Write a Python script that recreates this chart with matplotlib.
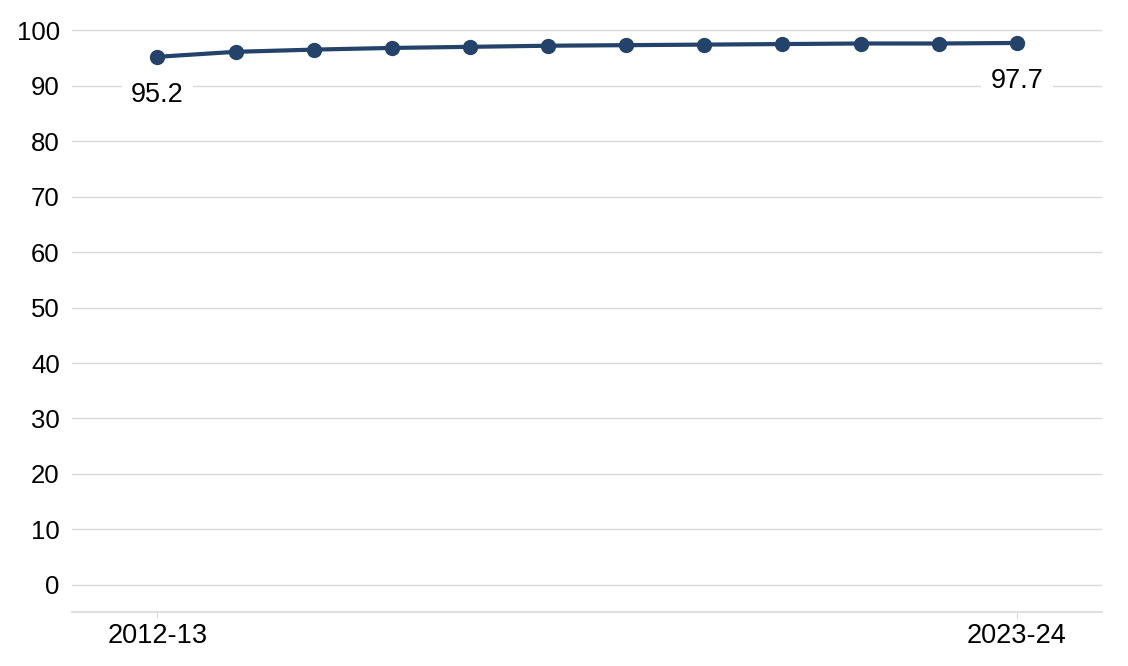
import matplotlib.pyplot as plt

plt.rcParams['font.family'] = ['Liberation Sans', 'DejaVu Sans']

years = ['2012-13', '2013-14', '2014-15', '2015-16', '2016-17', '2017-18',
         '2018-19', '2019-20', '2020-21', '2021-22', '2022-23', '2023-24']
values = [95.2, 96.1, 96.5, 96.8, 97.0, 97.2, 97.3, 97.4, 97.5, 97.6, 97.6, 97.7]
y_ticks = [0, 10, 20, 30, 40, 50, 60, 70, 80, 90, 100]

line_color = '#23436b'
grid_color = '#d9d9d9'

fig = plt.figure(figsize=(11.28, 6.66), dpi=100)
ax = fig.add_axes([0.064, 0.081, 0.913, 0.877])

x = list(range(len(years)))
ax.plot(x, values, color=line_color, linewidth=3, marker='o', markersize=10,
        zorder=3, solid_capstyle='round')

# label first and last values
for i in [0, len(values) - 1]:
    ax.annotate(f"{values[i]:.1f}", (x[i], values[i]), xytext=(0, -38),
                textcoords='offset pixels', ha='center', va='center',
                fontsize=19.5, color='black', zorder=4,
                bbox=dict(boxstyle='square,pad=0.35', fc='white', ec='none'))

ax.set_xlim(-1.09, len(years) - 1 + 1.09)
ax.set_ylim(-4.9, 100.4)
ax.set_yticks(y_ticks)
ax.set_xticks([x[0], x[-1]])
ax.set_xticklabels([years[0], years[-1]])

ax.grid(axis='y', color=grid_color, linewidth=1)
ax.set_axisbelow(True)
for side in ['top', 'right', 'left']:
    ax.spines[side].set_visible(False)
ax.spines['bottom'].set_color(grid_color)
ax.spines['bottom'].set_linewidth(1.2)

ax.tick_params(axis='y', length=0, labelsize=18.5, pad=9)
ax.tick_params(axis='x', length=4, color=grid_color, labelsize=19.5, pad=4)

fig.savefig('out.png', dpi=100)
